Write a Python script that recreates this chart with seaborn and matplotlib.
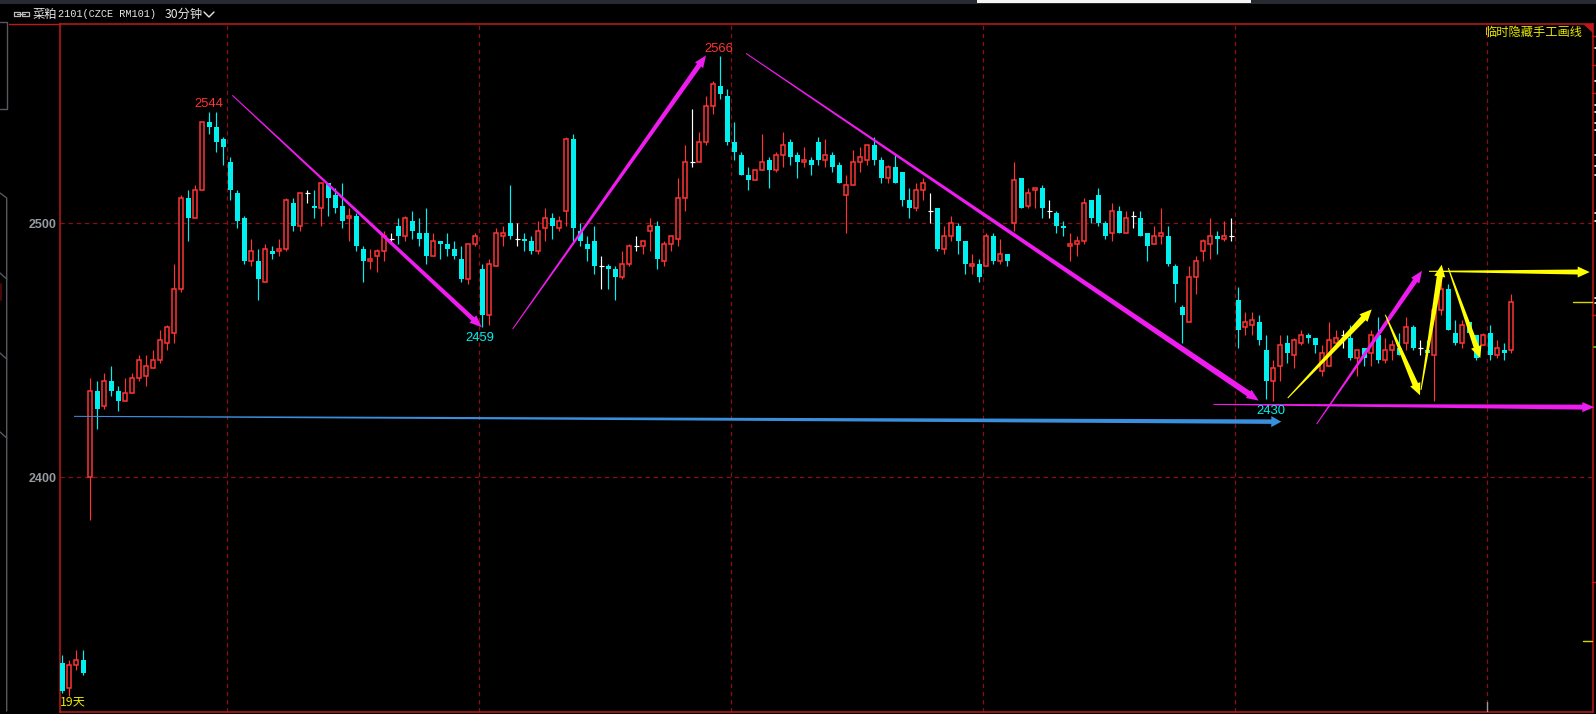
# rapeseed meal 30 min candles with hand drawn trend arrows
import numpy as np
import pandas as pd
import matplotlib.pyplot as plt
import seaborn as sns
from matplotlib.lines import Line2D
from matplotlib.patches import Rectangle, Polygon

opens = [2327,2317,2326,2328,2400,2434,2428,2438,2434,2430,
         2433,2439,2440,2443,2446,2453,2457,2474,2510,2502,
         2513,2540,2538,2533,2524,2512,2502,2485,2485,2477,
         2489,2489,2490,2508,2499,2512,2507,2506,2516,2511,
         2507,2502,2503,2490,2485,2487,2489,2494,2499,2495,
         2501,2496,2496,2487,2493,2492,2490,2486,2478,2492,
         2482,2464,2483,2495,2500,2494,2494,2493,2489,2498,
         2502,2498,2505,2533,2497,2492,2493,2483,2483,2482,
         2479,2484,2491,2491,2497,2499,2485,2492,2494,2510,
         2524,2524,2532,2546,2554,2550,2532,2527,2519,2517,
         2521,2525,2521,2527,2532,2527,2524,2525,2532,2525,
         2527,2523,2511,2515,2524,2525,2531,2525,2518,2522,
         2520,2509,2506,2513,2505,2506,2490,2495,2499,2493,
         2483,2484,2483,2495,2485,2488,2500,2518,2507,2513,
         2514,2505,2504,2499,2491,2492,2493,2509,2511,2500,
         2496,2505,2496,2503,2502,2496,2492,2495,2495,2483,
         2467,2461,2479,2489,2492,2495,2494,2495,2470,2459,
         2460,2461,2450,2438,2444,2453,2448,2453,2456,2455,
         2442,2444,2453,2456,2455,2447,2451,2449,2456,2446,
         2450,2451,2453,2459,2451,2450,2448,2466,2474,2457,
         2453,2461,2456,2452,2457,2448,2450,2450]
closes = [2316,2326,2328,2323,2434,2427,2438,2434,2430,2433,
          2439,2446,2444,2446,2454,2459,2474,2510,2502,2513,
          2540,2538,2532,2530,2513,2501,2485,2489,2478,2490,
          2488,2490,2509,2499,2512,2512,2506,2516,2510,2506,
          2501,2503,2491,2485,2486,2489,2495,2494,2495,2502,
          2497,2494,2487,2493,2492,2490,2487,2478,2492,2495,
          2464,2484,2496,2496,2495,2494,2493,2489,2497,2502,
          2499,2501,2533,2498,2493,2490,2483,2483,2482,2479,
          2484,2491,2491,2493,2499,2486,2492,2495,2510,2524,
          2524,2532,2546,2555,2551,2532,2528,2519,2517,2521,
          2524,2521,2527,2531,2526,2524,2525,2523,2525,2527,
          2522,2516,2515,2524,2526,2531,2525,2518,2522,2516,
          2509,2506,2513,2516,2505,2490,2495,2500,2493,2484,
          2484,2479,2495,2485,2488,2485,2517,2506,2512,2514,
          2506,2505,2499,2498,2492,2493,2508,2502,2500,2495,
          2505,2496,2502,2503,2495,2491,2495,2496,2484,2476,
          2464,2479,2485,2493,2495,2494,2495,2495,2458,2461,
          2462,2454,2438,2443,2452,2449,2454,2456,2455,2452,
          2449,2454,2455,2456,2447,2450,2447,2456,2446,2450,
          2452,2448,2459,2451,2451,2449,2466,2474,2458,2453,
          2460,2457,2447,2456,2448,2451,2449,2469]
highs = [2330,2328,2332,2332,2439,2438,2441,2444,2436,2439,
         2441,2448,2448,2450,2458,2460,2484,2511,2513,2515,
         2540,2544,2544,2534,2526,2513,2503,2494,2490,2492,
         2491,2494,2510,2510,2512,2513,2513,2516,2516,2514,
         2516,2506,2504,2491,2490,2490,2497,2496,2502,2503,
         2505,2502,2506,2496,2493,2496,2493,2491,2492,2496,
         2484,2486,2498,2499,2515,2500,2496,2495,2501,2506,
         2504,2503,2534,2535,2500,2495,2499,2487,2484,2483,
         2489,2492,2495,2493,2502,2501,2493,2495,2518,2531,
         2545,2536,2550,2556,2566,2553,2540,2528,2522,2521,
         2535,2526,2528,2536,2533,2528,2530,2526,2534,2533,
         2528,2524,2519,2529,2530,2531,2534,2526,2523,2527,
         2520,2514,2516,2518,2512,2506,2499,2503,2500,2493,
         2488,2486,2496,2496,2494,2488,2524,2518,2514,2514,
         2515,2509,2505,2501,2496,2495,2510,2509,2514,2501,
         2508,2507,2505,2505,2505,2496,2499,2506,2499,2484,
         2468,2483,2487,2494,2502,2497,2501,2502,2475,2465,
         2465,2464,2456,2446,2456,2456,2455,2458,2457,2455,
         2452,2461,2458,2458,2460,2450,2451,2458,2463,2455,
         2454,2457,2463,2460,2454,2454,2472,2480,2476,2462,
         2462,2461,2456,2457,2460,2454,2453,2472]
lows = [2315,2314,2324,2322,2383,2419,2427,2432,2426,2430,
        2433,2438,2436,2443,2445,2450,2453,2473,2493,2502,
        2513,2535,2528,2523,2509,2498,2484,2483,2470,2477,
        2486,2487,2489,2497,2497,2508,2502,2499,2503,2504,
        2498,2493,2489,2477,2482,2481,2485,2492,2492,2493,
        2494,2491,2484,2487,2486,2487,2486,2477,2476,2491,
        2459,2460,2483,2491,2494,2491,2489,2488,2488,2493,
        2494,2497,2499,2493,2491,2485,2480,2474,2474,2470,
        2478,2483,2489,2488,2489,2482,2483,2489,2491,2505,
        2522,2524,2531,2543,2549,2531,2525,2519,2513,2517,
        2521,2514,2520,2522,2523,2518,2522,2519,2523,2522,
        2520,2516,2496,2515,2520,2523,2523,2516,2516,2516,
        2507,2502,2505,2509,2500,2489,2488,2493,2488,2480,
        2480,2477,2483,2484,2484,2483,2497,2506,2506,2506,
        2502,2502,2496,2495,2485,2487,2492,2500,2499,2494,
        2493,2496,2496,2498,2495,2485,2492,2492,2483,2469,
        2453,2461,2472,2485,2486,2488,2493,2493,2451,2456,
        2456,2452,2431,2430,2438,2445,2443,2452,2453,2449,
        2440,2444,2452,2451,2446,2440,2444,2444,2445,2445,
        2446,2448,2450,2450,2448,2449,2430,2464,2458,2452,
        2451,2457,2446,2452,2446,2447,2446,2449]

y_ticks = [2400, 2500]
session_lines = [23.57, 59.57, 95.57, 131.57, 167.57, 203.57]

# price labels: candle index, price, text
peak_labels = [(20.9, 2547, "2544"), (93.8, 2568.5, "2566")]
trough_labels = [(59.6, 2455, "2459"), (172.6, 2426, "2430")]

# hand drawn arrows, (candle index, price) from and to
magenta_arrows = [((24.29, 2550.4), (59.91, 2459.1)),
                  ((64.34, 2458.4), (91.96, 2566.1)),
                  ((97.67, 2566.9), (170.91, 2430.2)),
                  ((164.43, 2428.7), (218.86, 2427.6)),
                  ((179.2, 2421.0), (194.24, 2481.3))]
yellow_arrows = [((175.06, 2431.2), (187.06, 2466.1)),
                 ((189.0, 2464.0), (193.96, 2432.3)),
                 ((194.1, 2434.4), (197.06, 2483.7)),
                 ((195.24, 2481.1), (218.2, 2480.8)),
                 ((198.0, 2482.4), (202.57, 2446.9))]
blue_arrows = [((1.67, 2424.0), (174.14, 2421.9))]
# shaft width at the head of each arrow
magenta_widths = [4.5, 5.0, 6.0, 5.0, 5.0]
yellow_widths = [6.0, 6.0, 6.0, 5.0, 5.5]
blue_widths = [4.5]

RED = "#ff3333"
CYAN = "#00f0f0"
FRAME = "#c01818"
GRID = "#8a0f14"
YELLOW = "#e8e800"
FONT = ["Noto Sans CJK SC", "DejaVu Sans"]
W, H = 1596, 714

sns.set_theme(style="dark", rc={"axes.facecolor": "black", "figure.facecolor": "black"})
plt.rcParams["font.family"] = FONT

df = pd.DataFrame({"idx": np.arange(len(opens)), "open": opens, "close": closes,
                   "high": highs, "low": lows})
df["top"] = df[["open", "close"]].max(axis=1)
df["bottom"] = df[["open", "close"]].min(axis=1)
df["height"] = df["top"] - df["bottom"]

fig = plt.figure(figsize=(W / 100, H / 100), dpi=100)
ax = fig.add_axes([59.5 / W, 1 - 711.5 / H, 1533 / W, 688 / H])

up = df[df["close"] > df["open"]]
down = df[df["close"] < df["open"]]
flat = df[df["close"] == df["open"]]

# wicks first, bodies go over them
ax.vlines(up["idx"], up["low"], up["high"], color=RED, lw=0.85, zorder=2)
ax.vlines(down["idx"], down["low"], down["high"], color=CYAN, lw=0.85, zorder=2)
ax.vlines(flat["idx"], flat["low"], flat["high"], color="white", lw=0.85, zorder=2)
ax.hlines(flat["close"], flat["idx"] - 0.36, flat["idx"] + 0.36, color="white", lw=0.85, zorder=2)

sns.barplot(data=down, x="idx", y="height", bottom=down["bottom"], native_scale=True,
            width=0.78, color=CYAN, saturation=1, errorbar=None, linewidth=0, ax=ax, zorder=3)
sns.barplot(data=up, x="idx", y="height", bottom=up["bottom"], native_scale=True,
            width=0.62, color="black", saturation=1, errorbar=None, linewidth=1.1,
            edgecolor=RED, ax=ax, zorder=3)

ax.set_autoscale_on(False)
ax.set_xlim(-0.4, 218.6)
ax.set_ylim(2307.8, 2578.66)
ax.set_xlabel("")
ax.set_ylabel("")
ax.set_xticks(session_lines)
ax.set_xticklabels([])
ax.set_yticks(y_ticks)
ax.set_yticklabels([str(v) for v in y_ticks], family="Liberation Sans", weight="bold",
                   fontsize=9.0, color="#969aa0")
ax.tick_params(length=0, pad=2)
ax.set_axisbelow(True)
ax.grid(True, color=GRID, lw=0.9, ls=(0, (3.5, 3)))
for side in ax.spines:
    ax.spines[side].set_color(FRAME)
    ax.spines[side].set_linewidth(1.1)
    ax.spines[side].set_visible(True)


def draw_arrow(start, end, color, w1, head_w=10.0, head_len=12.0, w0=1.0):
    # tapered line with a head, sized in pixels
    p0 = ax.transData.transform(start)
    p1 = ax.transData.transform(end)
    d = (p1 - p0) / np.linalg.norm(p1 - p0)
    n = np.array([-d[1], d[0]])
    base = p1 - d * head_len
    pts = [p0 + n * w0 / 2, base + n * w1 / 2, base + n * head_w / 2, p1,
           base - n * head_w / 2, base - n * w1 / 2, p0 - n * w0 / 2]
    ax.add_patch(Polygon(ax.transData.inverted().transform(pts), closed=True, color=color,
                         lw=0, clip_on=False, zorder=5))


for (s, e), w in zip(magenta_arrows, magenta_widths):
    draw_arrow(s, e, "#ee1cee", w)
for (s, e), w in zip(yellow_arrows, yellow_widths):
    draw_arrow(s, e, "#ffff00", w, head_w=11.0)
for (s, e), w in zip(blue_arrows, blue_widths):
    draw_arrow(s, e, "#3a8fdc", w, head_w=11.0, head_len=10.0)

for x, y, txt in peak_labels:
    ax.text(x, y, txt, color=RED, fontsize=9.4, family="Liberation Sans", ha="center",
            va="center", zorder=6)
for x, y, txt in trough_labels:
    ax.text(x, y, txt, color=CYAN, fontsize=9.4, family="Liberation Sans", ha="center",
            va="center", zorder=6)


def px_line(xs, ys, color, lw=1.0):
    fig.add_artist(Line2D([x / W for x in xs], [1 - y / H for y in ys], color=color, lw=lw))


def px_text(x, y, txt, color, **kw):
    fig.text(x / W, 1 - y / H, txt, color=color, va="center", **kw)


# window chrome around the plot
fig.add_artist(Rectangle((0, 1 - 4 / H), 1, 4 / H, color="#272b31", lw=0, transform=fig.transFigure))
fig.add_artist(Rectangle((977 / W, 1 - 2.5 / H), 274 / W, 2.5 / H, color="#f4f4f4", lw=0,
                         transform=fig.transFigure))
px_line([9, 60], [23.5, 23.5], FRAME)
fig.add_artist(Polygon([[1583 / W, 1 - 23.5 / H], [1592.5 / W, 1 - 23.5 / H], [1592.5 / W, 1 - 33 / H]],
                       closed=True, color=FRAME, lw=0, transform=fig.transFigure))

px_line([0, 6.7, 6.7, 0], [22, 22, 109, 109], "#55585c")
px_line([0, 6.7, 6.7], [193, 198, 711], "#55585c")
for y in [273, 353, 432]:
    px_line([0, 6.7], [y, y + 6], "#55585c")
px_line([0.5, 0.5], [284, 300], "#5a0c0c", lw=1.2)

for y in [36, 65, 93, 315, 582]:
    px_line([1592, 1596], [y, y], FRAME)
for y in [48, 81, 105, 112, 123, 130, 155, 166, 175, 213, 221, 298, 303]:
    px_line([1594.5, 1596], [y, y], "white", lw=1.2)
px_line([1594, 1596], [347, 347], "#44dd22", lw=1.2)
px_line([1573, 1592], [302, 302], "#d8d800")
px_line([1583, 1592], [641, 641], "#d8d800")
px_line([1487.3, 1487.3], [702, 711], "#999999")

# header
px_line([13.5, 20, 20, 13.5, 13.5], [12, 12, 16, 16, 12], "#bbbbbb", lw=0.9)
px_line([22, 28.5, 28.5, 22, 22], [12, 12, 16, 16, 12], "#bbbbbb", lw=0.9)
px_line([17, 25], [14, 14], "#bbbbbb", lw=0.9)
px_text(33, 14, "菜粕", "#e6e6e6", fontsize=8.8)
px_text(57.5, 14, "2101(CZCE RM101)", "#e6e6e6", fontsize=7.4, family="Liberation Mono")
px_text(165, 14, "30分钟", "#e6e6e6", fontsize=8.8)
px_line([204, 209, 214], [12, 17, 12], "#e6e6e6", lw=1.0)

px_text(1484.5, 32.5, "临时隐藏手工画线", YELLOW, fontsize=8.8)
px_text(60, 702, "19天", YELLOW, fontsize=8.8)

fig.savefig("out.png", dpi=100, facecolor="black")
